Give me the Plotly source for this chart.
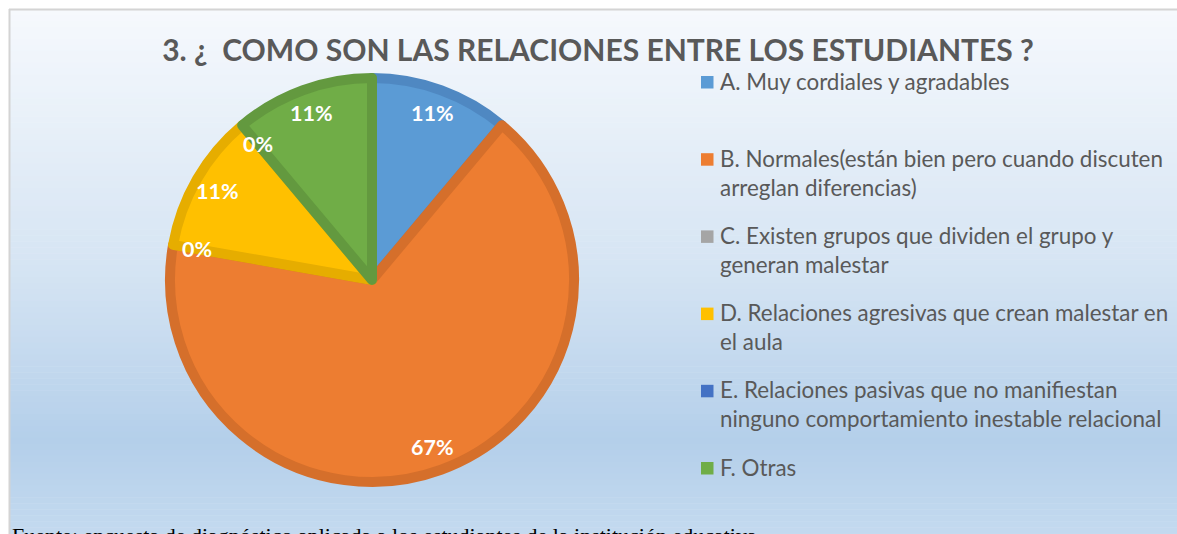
import math
import plotly.graph_objects as go

# ---------------- data ----------------
categories = [
    "A. Muy cordiales y agradables",
    "B. Normales(están bien pero cuando discuten<br>arreglan diferencias)",
    "C. Existen grupos que dividen el grupo y<br>generan malestar",
    "D. Relaciones agresivas que crean malestar en<br>el aula",
    "E. Relaciones pasivas que no manifiestan<br>ninguno comportamiento inestable relacional",
    "F. Otras",
]
counts = [1, 6, 0, 1, 0, 1]
fill_colors = ["#5B9BD5", "#ED7D31", "#A5A5A5", "#FFC000", "#4472C4", "#70AD47"]
edge_colors = ["#4F88C2", "#D56F2B", "#939393", "#E6AD00", "#3C66B0", "#63993F"]
title_text = "3. ¿\u00a0 COMO SON LAS RELACIONES ENTRE LOS ESTUDIANTES ?"
source_text = "Fuente: encuesta de diagnóstico aplicada a los estudiantes de la institución educativa."

# ---------------- geometry helpers (page pixels -> paper) ----------------
W, H = 1177, 534


def X(px):
    return px / W


def Y(py):
    return 1 - py / H


CX, CY, R = 372, 280, 207
LW = 10

total = sum(counts)

fig = go.Figure()
fig.add_trace(go.Pie(
    labels=[c.split("<br>")[0][:2] for c in categories],
    values=counts,
    sort=False,
    direction="clockwise",
    rotation=0,
    marker=dict(colors=fill_colors,
                line=dict(color=edge_colors, width=[LW if v > 0 else 0 for v in counts])),
    textinfo="none",
    hoverinfo="label+percent",
    showlegend=False,
    domain=dict(x=[X(CX - R + LW / 2), X(CX + R - LW / 2)],
                y=[Y(CY + R - LW / 2), Y(CY - R + LW / 2)]),
))

annotations = []
# percent labels placed along slice bisectors
cum = 0
for v in counts:
    theta = math.radians(360 * (cum + v / 2) / total)
    cum += v
    rr = 0.86 * R
    px = CX + rr * math.sin(theta)
    py = CY - rr * math.cos(theta)
    annotations.append(dict(
        x=X(px), y=Y(py), xref="paper", yref="paper",
        text=f"<b>{round(100 * v / total)}%</b>", showarrow=False,
        font=dict(family="Lato", size=21.5, color="white"),
        xanchor="center", yanchor="middle"))

# legend (manual, to match spacing)
shapes = []
LEG_Y0, LEG_STEP, LINE_STEP = 81, 77.2, 29
for i, (lab, col) in enumerate(zip(categories, fill_colors)):
    yc = LEG_Y0 + i * LEG_STEP
    shapes.append(dict(type="rect", xref="paper", yref="paper",
                       x0=X(701), x1=X(713.5), y0=Y(yc + 7.5), y1=Y(yc - 5),
                       fillcolor=col, line=dict(width=0), layer="above"))
    for j, line in enumerate(lab.split("<br>")):
        annotations.append(dict(
            x=X(718), y=Y(yc + j * LINE_STEP), xref="paper", yref="paper",
            text=line, showarrow=False,
            font=dict(family="Lato", size=22.4, color="#595959"),
            xanchor="left", yanchor="middle"))

# source line (cropped at bottom of picture)
annotations.append(dict(
    x=X(10), y=Y(521), xref="paper", yref="paper", text=source_text,
    showarrow=False, font=dict(family="Liberation Serif", size=22, color="black"),
    xanchor="left", yanchor="top"))

# background gradient
stops = [(9, (246, 249, 253)), (270, (213, 228, 243)), (440, (180, 207, 234)), (545, (197, 219, 240))]


def col_at(py):
    for (a, ca), (b, cb) in zip(stops[:-1], stops[1:]):
        if py <= b:
            t = max(0.0, (py - a) / (b - a))
            return "rgb(%d,%d,%d)" % tuple(round(ca[k] + (cb[k] - ca[k]) * t) for k in range(3))
    return "rgb(%d,%d,%d)" % stops[-1][1]


bg = []
N = 90
y_top, y_bot = 9, 545
for k in range(N):
    a = y_top + (y_bot - y_top) * k / N
    b = y_top + (y_bot - y_top) * (k + 1) / N
    bg.append(dict(type="rect", xref="paper", yref="paper", x0=X(9), x1=X(1200),
                   y0=Y(b + 0.5), y1=Y(a), fillcolor=col_at((a + b) / 2),
                   line=dict(width=0), layer="below"))
# frame line
bg.append(dict(type="line", xref="paper", yref="paper", x0=X(9.5), x1=X(9.5), y0=Y(545), y1=Y(9),
               line=dict(color="#D4D4D4", width=2), layer="below"))
bg.append(dict(type="line", xref="paper", yref="paper", x0=X(9), x1=X(1200), y0=Y(9.5), y1=Y(9.5),
               line=dict(color="#D4D4D4", width=2), layer="below"))

fig.update_layout(
    width=W, height=H, autosize=False,
    margin=dict(l=0, r=0, t=0, b=0),
    paper_bgcolor="white", plot_bgcolor="white",
    title=dict(text=f"<b>{title_text}</b>", x=X(598), y=Y(50), xref="paper", yref="paper",
               xanchor="center", yanchor="middle",
               font=dict(family="Lato", size=30, color="#595959")),
    shapes=bg + shapes,
    annotations=annotations,
)

fig.write_html(
    "out.html",
    config={"displayModeBar": False},
    post_script=("document.documentElement.style.overflow='hidden';"
                 "document.body.style.margin='0';document.body.style.overflow='hidden';"),
)
